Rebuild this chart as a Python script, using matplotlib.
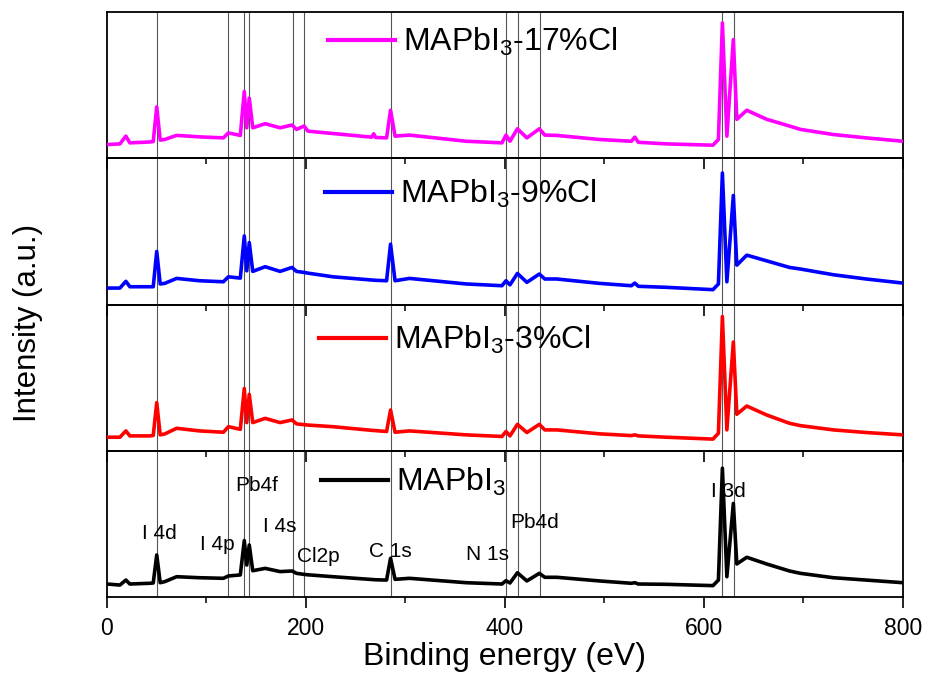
import matplotlib
matplotlib.use("Agg")
import matplotlib.pyplot as plt
from matplotlib.ticker import MultipleLocator

plt.rcParams["font.family"] = ["Liberation Sans", "DejaVu Sans"]
plt.rcParams["mathtext.fontset"] = "custom"
plt.rcParams["mathtext.rm"] = "Liberation Sans"
plt.rcParams["mathtext.default"] = "regular"

# binding energy knots (eV) shared by all four survey spectra
energy = [0, 13, 19, 23, 43, 46.5, 50, 53.5, 58, 70,
          93, 117, 122, 134, 138, 140.5, 143, 146.5, 159, 174,
          186, 190.5, 198, 202, 227, 266, 268, 270, 281, 285,
          289.5, 304, 361, 397, 401, 405, 412.5, 422, 434.5, 440,
          452, 495, 527, 530.5, 534, 562, 609, 614.5, 618.5, 623,
          629.5, 633, 643, 663, 686, 697, 730, 763, 800]

cl17 = [9.4, 9.9, 15.2, 10.6, 11.2, 11.5, 35.2, 12.5, 12.9, 15.7,
        14.7, 14.0, 17.4, 15.7, 45.7, 20.9, 41.2, 20.9, 23.7, 20.9,
        22.8, 19.8, 22.1, 18.6, 17.0, 14.5, 16.8, 14.3, 14.0, 32.9,
        15.2, 15.9, 11.7, 10.6, 15.9, 11.7, 20.2, 14.0, 20.2, 15.9,
        15.7, 12.9, 11.7, 14.5, 11.0, 9.9, 9.0, 12.9, 92.6, 15.2,
        81.2, 26.7, 32.9, 26.7, 22.1, 19.8, 16.3, 14.0, 11.7]

cl9 = [11.3, 11.3, 15.9, 12.2, 12.2, 12.2, 36.3, 14.1, 14.5, 17.9,
       16.3, 15.6, 19.0, 18.1, 46.9, 23.1, 42.4, 22.7, 25.9, 22.7,
       25.4, 22.7, 22.0, 21.5, 19.0, 16.8, 16.7, 16.6, 16.3, 41.3,
       16.3, 17.9, 14.1, 12.9, 16.3, 13.5, 21.3, 15.2, 20.9, 17.5,
       17.5, 14.5, 12.9, 14.7, 12.5, 11.8, 10.2, 14.1, 90.0, 15.6,
       74.6, 27.0, 33.8, 29.9, 25.4, 24.3, 20.4, 17.5, 14.7]

cl3 = [9.3, 9.3, 13.6, 10.2, 10.2, 10.5, 32.9, 10.9, 11.5, 15.4,
       13.6, 12.7, 16.5, 14.7, 42.6, 19.3, 38.6, 19.3, 22.2, 19.3,
       21.1, 18.4, 17.9, 17.6, 16.5, 14.0, 13.9, 13.8, 13.2, 27.9,
       12.7, 13.6, 10.9, 9.8, 13.2, 10.2, 18.1, 12.5, 18.1, 14.3,
       14.3, 11.6, 10.4, 10.9, 10.2, 9.3, 8.0, 12.0, 91.8, 14.3,
       74.4, 25.0, 30.6, 24.5, 18.8, 17.2, 14.3, 12.5, 10.9]

pure = [8.9, 8.2, 11.6, 8.9, 9.4, 9.6, 28.8, 9.8, 10.5, 13.9,
        13.2, 12.8, 14.4, 15.1, 38.6, 21.9, 35.6, 18.0, 19.6, 17.4,
        17.8, 16.2, 15.5, 15.2, 13.9, 12.0, 11.9, 11.8, 11.6, 26.5,
        12.1, 12.8, 9.8, 8.9, 11.2, 9.6, 16.6, 11.0, 16.2, 13.5,
        13.5, 11.0, 9.4, 9.8, 8.9, 8.7, 7.8, 11.6, 88.1, 13.9,
        64.0, 22.6, 27.2, 22.6, 17.8, 16.2, 13.2, 11.6, 9.8]

series = [cl17, cl9, cl3, pure]
labels = ["MAPbI$_3$-17%Cl", "MAPbI$_3$-9%Cl", "MAPbI$_3$-3%Cl", "MAPbI$_3$"]
colors = ["#ff00ff", "#0000ff", "#ff0000", "#000000"]
legend_pos = [(0.278, 0.793), (0.274, 0.755), (0.266, 0.755), (0.269, 0.788)]

# reference core-level positions (eV)
ref_lines = [50, 122, 138, 143, 187, 198, 285, 401, 413, 435, 618, 630]

peak_names = ["I 4d", "I 4p", "Pb4f", "I 4s", "Cl2p", "C 1s", "N 1s", "Pb4d", "I 3d"]
peak_x = [35, 93.5, 128.6, 156.8, 191, 263.3, 360.8, 405.7, 606.7]
peak_y = [0.432, 0.356, 0.760, 0.479, 0.274, 0.308, 0.288, 0.507, 0.719]

fig, axes = plt.subplots(4, 1, sharex=True, figsize=(9.27, 6.74), dpi=100,
                         gridspec_kw={"hspace": 0})
fig.subplots_adjust(left=0.1154, right=0.9741, top=0.982, bottom=0.1142)

for ax, y, lab, col, pos in zip(axes, series, labels, colors, legend_pos):
    ax.set_facecolor("none")
    for e in ref_lines:
        ax.axvline(e, color="#555555", lw=0.8, zorder=1)
    ax.plot(energy, y, color=col, lw=2.6, zorder=3, label=lab,
            solid_joinstyle="round")
    leg = ax.legend(loc="center left", bbox_to_anchor=pos, frameon=False,
                    fontsize=23, handlelength=2.1, handletextpad=0.25,
                    borderpad=0, borderaxespad=0)
    leg.get_lines()[0].set_linewidth(3)
    ax.set_ylim(0, 100)
    ax.set_yticks([])
    ax.set_xlim(0, 800)
    ax.xaxis.set_major_locator(MultipleLocator(200))
    ax.xaxis.set_minor_locator(MultipleLocator(100))
    ax.tick_params(axis="x", which="major", direction="out", length=8, width=1.2,
                   labelsize=16.5, pad=6.5)
    ax.tick_params(axis="x", which="minor", direction="out", length=4.3, width=1.1)
    for sp in ax.spines.values():
        sp.set_linewidth(1.3)

bottom = axes[-1]
for name, x, yy in zip(peak_names, peak_x, peak_y):
    bottom.text(x, yy, name, transform=bottom.get_xaxis_transform(),
                ha="left", va="center", fontsize=15)

bottom.set_xlabel("Binding energy (eV)", fontsize=23, labelpad=1)
fig.text(0.030, 0.5215, "Intensity (a.u.)", rotation=90, ha="center", va="center",
         fontsize=22.5)

fig.savefig("out.png", dpi=100)
